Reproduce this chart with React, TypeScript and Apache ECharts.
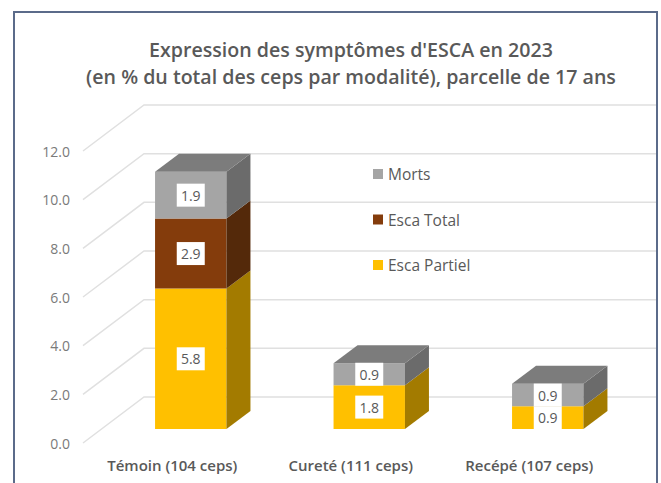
import React, { useEffect, useRef } from "react";
import * as echarts from "echarts";

const categories = ["Témoin (104 ceps)", "Cureté (111 ceps)", "Recépé (107 ceps)"];
const escaPartiel = [5.77, 1.8, 0.93];
const escaTotal = [2.88, 0, 0];
const morts = [1.92, 0.9, 0.93];
const yTicks = [0, 2, 4, 6, 8, 10, 12];
const titleText = "Expression des symptômes d'ESCA en 2023\n(en % du total des ceps par modalité), parcelle de 17 ans";
const FONT = "'Open Sans', 'Noto Sans', sans-serif";

const WALL = [61, -46];
const BAR_OFFSET = [18.5, -14];
const DEPTH = [24, -18];

function stackedData(values: number[], below: number[][]) {
  return values.map((v, i) => {
    const start = below.reduce((s, arr) => s + arr[i], 0);
    return [i, start, start + v, v];
  });
}

function barRenderer(front: string, side: string, top: string | null) {
  return (_params: any, api: any) => {
    const cat = api.value(0);
    const start = api.value(1);
    const end = api.value(2);
    const value = api.value(3);
    if (!(value > 0)) return null;
    const bandW = api.size([1, 0])[0];
    const w = bandW * 0.4;
    const a = api.coord([cat, start]);
    const b = api.coord([cat, end]);
    const x0 = a[0] + BAR_OFFSET[0] - w / 2;
    const x1 = x0 + w;
    const yB = a[1] + BAR_OFFSET[1];
    const yT = b[1] + BAR_OFFSET[1];
    const children: any[] = [
      { type: "rect", shape: { x: x0, y: yT, width: w, height: yB - yT }, style: { fill: front } },
      {
        type: "polygon",
        shape: { points: [[x1, yT], [x1 + DEPTH[0], yT + DEPTH[1]], [x1 + DEPTH[0], yB + DEPTH[1]], [x1, yB]] },
        style: { fill: side },
      },
    ];
    if (top) {
      children.push({
        type: "polygon",
        shape: { points: [[x0, yT], [x0 + DEPTH[0], yT + DEPTH[1]], [x1 + DEPTH[0], yT + DEPTH[1]], [x1, yT]] },
        style: { fill: top },
      });
    }
    const cx = (x0 + x1) / 2;
    const cy = (yT + yB) / 2;
    children.push({ type: "rect", shape: { x: cx - 14, y: cy - 11.5, width: 28, height: 23 }, style: { fill: "#ffffff" } });
    children.push({
      type: "text",
      style: {
        text: value.toFixed(1), x: cx, y: cy, align: "center", verticalAlign: "middle",
        fill: "#595959", font: `14px ${FONT}`,
      },
    });
    return { type: "group", children };
  };
}

function wallRenderer(_params: any, api: any) {
  const v = api.value(1);
  const p = api.coord([0, v]);
  const band = api.size([1, 0])[0];
  const left = p[0] - band / 2;
  const backY = p[1] + WALL[1];
  return {
    type: "polyline",
    shape: { points: [[left, p[1]], [left + WALL[0], backY], [656, backY]] },
    style: { stroke: "#e0e0e0", lineWidth: 1.5, fill: "none" },
  };
}

export default function App() {
  const ref = useRef<HTMLDivElement>(null);
  useEffect(() => {
    const chart = echarts.init(ref.current!, null, { renderer: "svg" });
    chart.setOption({
      animation: false,
      backgroundColor: "#ffffff",
      title: {
        text: titleText, left: 346, top: 31, textAlign: "center",
        textStyle: { fontFamily: FONT, fontSize: 19.6, fontWeight: 600, color: "#595959", lineHeight: 27 },
      },
      legend: {
        orient: "vertical", left: 368, top: 159, itemWidth: 10, itemHeight: 10, itemGap: 25.5,
        icon: "rect", selectedMode: false,
        data: ["Morts", "Esca Total", "Esca Partiel"],
        textStyle: { fontFamily: FONT, fontSize: 15.5, color: "#595959", padding: [0, 0, 0, 0], lineHeight: 20 },
      },
      grid: { left: 83, top: 151, width: 535.5, height: 292 },
      xAxis: {
        type: "category", data: categories,
        axisLine: { show: false }, axisTick: { show: false },
        axisLabel: { interval: 0, margin: 14, fontFamily: FONT, fontSize: 15, fontWeight: 600, color: "#595959" },
      },
      yAxis: {
        type: "value", min: 0, max: 12, interval: 2,
        axisLine: { show: false }, axisTick: { show: false }, splitLine: { show: false },
        axisLabel: { margin: 13, fontFamily: FONT, fontSize: 14, color: "#7a7a7a", formatter: (v: number) => v.toFixed(1) },
      },
      series: [
        { type: "custom", name: "wall", silent: true, clip: false, z: 1, data: yTicks.map((t) => [0, t]), renderItem: wallRenderer, encode: { x: 0, y: 1 } },
        { type: "custom", name: "Esca Partiel", silent: true, clip: false, z: 2, itemStyle: { color: "#ffc000" },
          data: stackedData(escaPartiel, []), renderItem: barRenderer("#ffc000", "#a37b00", null), encode: { x: 0, y: [1, 2] } },
        { type: "custom", name: "Esca Total", silent: true, clip: false, z: 3, itemStyle: { color: "#843c0c" },
          data: stackedData(escaTotal, [escaPartiel]), renderItem: barRenderer("#843c0c", "#54290a", null), encode: { x: 0, y: [1, 2] } },
        { type: "custom", name: "Morts", silent: true, clip: false, z: 4, itemStyle: { color: "#a5a5a5" },
          data: stackedData(morts, [escaPartiel, escaTotal]), renderItem: barRenderer("#a5a5a5", "#6b6b6b", "#7c7c7c"), encode: { x: 0, y: [1, 2] } },
      ],
      graphic: [
        { type: "rect", silent: true, z: 100, shape: { x: 14, y: 12, width: 643, height: 600 }, style: { fill: "none", stroke: "#5b6b8a", lineWidth: 2 } },
      ],
    });
    return () => chart.dispose();
  }, []);
  return <div ref={ref} style={{ position: "fixed", left: 0, top: 0, width: 661, height: 483 }} />;
}
